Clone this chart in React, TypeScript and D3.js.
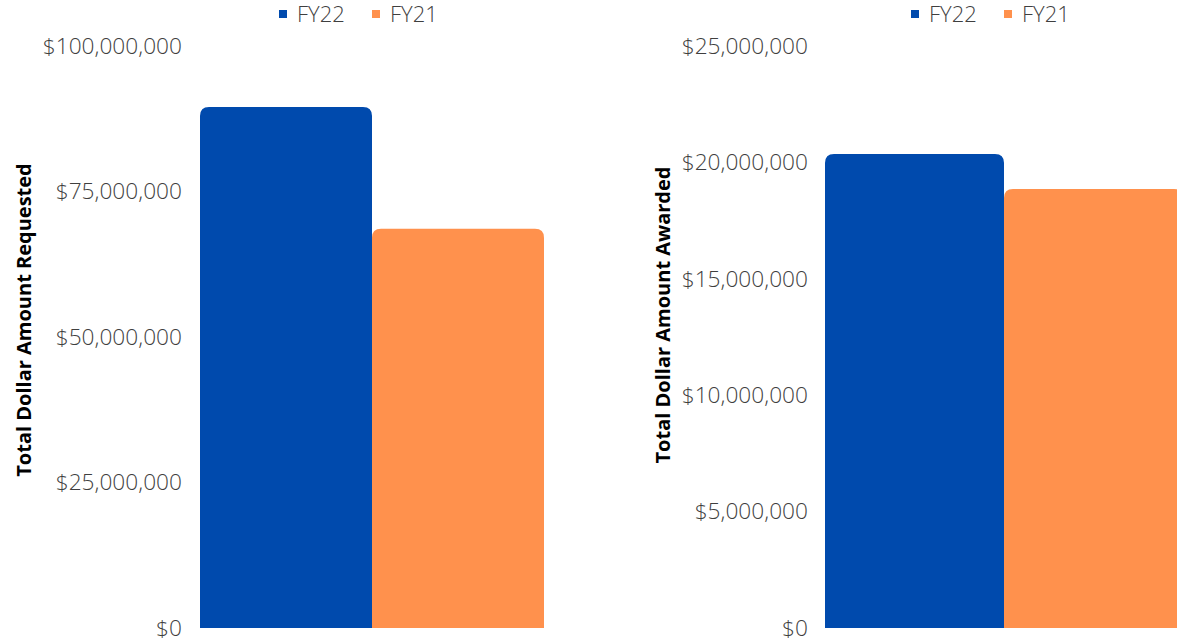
import { useEffect, useRef } from "react";
import * as d3 from "d3";

const width = 1177;
const height = 640;

const series = ["FY22", "FY21"];
const colors = ["#004aad", "#ff914d"];

const requestedValues = [89500000, 68600000];
const requestedTicks = [0, 25000000, 50000000, 75000000, 100000000];

const awardedValues = [20360000, 18860000];
const awardedTicks = [0, 5000000, 10000000, 15000000, 20000000, 25000000];

const fmt = (v: number) => "$" + d3.format(",")(v);

interface ChartCfg {
  values: number[];
  ticks: number[];
  max: number;
  title: string;
  x0: number;
  x1: number;
  axisX: number;
  titleX: number;
  titleY: number;
}

const charts: ChartCfg[] = [
  {
    values: requestedValues,
    ticks: requestedTicks,
    max: 100000000,
    title: "Total Dollar Amount Requested",
    x0: 200,
    x1: 544,
    axisX: 182,
    titleX: 31,
    titleY: 320,
  },
  {
    values: awardedValues,
    ticks: awardedTicks,
    max: 25000000,
    title: "Total Dollar Amount Awarded",
    x0: 825,
    x1: 1183,
    axisX: 808,
    titleX: 670,
    titleY: 315,
  },
];

// rect with rounded top corners only
function topRounded(x: number, y: number, w: number, h: number, r: number) {
  const rr = Math.min(r, h, w / 2);
  return `M${x},${y + h}V${y + rr}Q${x},${y} ${x + rr},${y}H${x + w - rr}Q${x + w},${y} ${x + w},${y + rr}V${y + h}Z`;
}

export default function App() {
  const ref = useRef<HTMLDivElement | null>(null);

  useEffect(() => {
    if (!ref.current) return;
    document.body.style.margin = "0";
    d3.select(ref.current).selectAll("svg").remove();

    const svg = d3
      .select(ref.current)
      .append("svg")
      .attr("width", width)
      .attr("height", height)
      .style("display", "block")
      .style("font-family", "'Open Sans', sans-serif");

    charts.forEach((c) => {
      const g = svg.append("g");
      const y = d3.scaleLinear([0, c.max], [628, 46]);
      const x = d3.scaleBand(series, [c.x0, c.x1]).padding(0);

      // y axis labels
      const yAxis = d3
        .axisLeft(y)
        .tickValues(c.ticks)
        .tickFormat((d) => fmt(+d))
        .tickSize(0)
        .tickPadding(0);
      const yAxisG = g
        .append("g")
        .attr("transform", `translate(${c.axisX},0)`)
        .call(yAxis);
      yAxisG.select("path").remove();
      yAxisG
        .selectAll("text")
        .attr("font-family", "'Open Sans', sans-serif")
        .attr("font-size", 22.7)
        .attr("font-weight", 300)
        .attr("fill", "#3f3f3f");

      // bars
      g.selectAll(".bar")
        .data(c.values)
        .enter()
        .append("path")
        .attr("d", (d, i) =>
          topRounded(x(series[i])!, y(d), x.bandwidth(), y(0) - y(d), 9)
        )
        .attr("fill", (_, i) => colors[i]);

      // axis title
      g.append("text")
        .attr("transform", `translate(${c.titleX},${c.titleY}) rotate(-90)`)
        .attr("text-anchor", "middle")
        .attr("font-size", 20)
        .attr("font-weight", 700)
        .attr("fill", "#000")
        .text(c.title);

      // legend
      const lx = (c.x0 + c.x1) / 2 - 93;
      const items = [
        { name: series[0], color: colors[0], dx: 0 },
        { name: series[1], color: colors[1], dx: 93 },
      ];
      const lg = g
        .selectAll(".legend")
        .data(items)
        .enter()
        .append("g")
        .attr("transform", (d) => `translate(${lx + d.dx},0)`);
      lg.append("rect")
        .attr("x", 0)
        .attr("y", 10)
        .attr("width", 8)
        .attr("height", 8)
        .attr("fill", (d) => d.color);
      lg.append("text")
        .attr("x", 18)
        .attr("y", 22)
        .attr("font-size", 22)
        .attr("font-weight", 300)
        .attr("fill", "#3f3f3f")
        .text((d) => d.name);
    });
  }, []);

  return <div ref={ref} />;
}
